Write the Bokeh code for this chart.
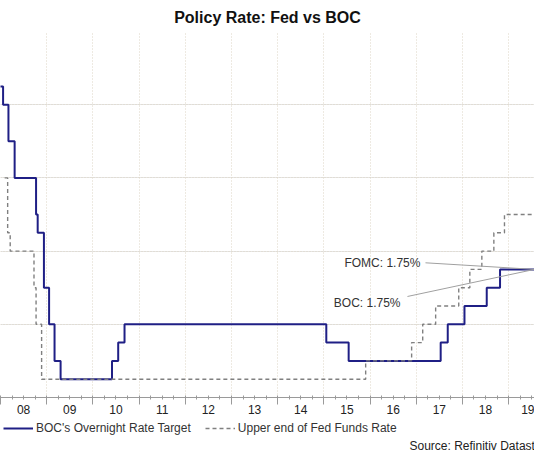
from bokeh.plotting import figure
from bokeh.layouts import column
from bokeh.models import (FixedTicker, LinearAxis, Legend, LegendItem,
                          Label, Range1d, Grid)
from bokeh.embed import file_html
from bokeh.resources import INLINE

# ---- data (decimal years, % rates) ----
boc_dates = [2007.90, 2008.056, 2008.172, 2008.306, 2008.770, 2008.805, 2008.940,
             2009.052, 2009.170, 2009.301, 2010.414, 2010.548, 2010.685, 2015.053,
             2015.537, 2017.529, 2017.682, 2018.044, 2018.526, 2018.814, 2019.70]
boc_rates = [4.25, 4.00, 3.50, 3.00, 2.50, 2.25, 1.50,
             1.00, 0.50, 0.25, 0.50, 0.75, 1.00, 0.75,
             0.50, 0.75, 1.00, 1.25, 1.50, 1.75, 1.75]

fed_dates = [2008.09, 2008.155, 2008.21, 2008.725, 2008.77, 2008.89, 2015.905,
             2016.90, 2017.14, 2017.42, 2017.92, 2018.16, 2018.42, 2018.68,
             2018.91, 2019.70]
fed_rates = [3.00, 2.25, 2.00, 1.50, 1.00, 0.25, 0.50,
             0.75, 1.00, 1.25, 1.50, 1.75, 2.00, 2.25,
             2.50, 2.50]

year_starts = list(range(2008, 2020))
year_labels = ["08", "09", "10", "11", "12", "13", "14", "15", "16", "17", "18", "19"]
rate_grid = [1, 2, 3, 4, 5]

boc_name = "BOC's Overnight Rate Target"
fed_name = "Upper end of Fed Funds Rate"
fomc_note = "FOMC: 1.75%"
boc_note = "BOC: 1.75%"
source_note = "Source: Refinitiv Datastream"

X0, X1 = 2008.0, 2019.56
FONT = "Liberation Sans"
W, H_MAIN, H_FOOT = 534, 416, 38

BOC_STYLE = dict(line_color="#1f1f85", line_width=2)
FED_STYLE = dict(line_color="#808080", line_width=1.4, line_dash="4 3")

xr = Range1d(X0, X1)

p = figure(width=W, height=H_MAIN, output_backend="svg", toolbar_location=None,
           x_range=xr, y_range=Range1d(0, 5),
           y_axis_location=None, min_border_left=0, min_border_right=0,
           min_border_top=0, min_border_bottom=0, outline_line_color=None,
           title="Policy Rate: Fed vs BOC")
p.background_fill_color = "white"
p.border_fill_color = "white"

p.title.align = "center"
p.title.text_font = FONT
p.title.text_font_size = "16px"
p.title.text_font_style = "bold"
p.title.text_color = "#111111"
p.title.standoff = 12

# grids
p.xgrid.visible = False
vgrid = Grid(dimension=0, ticker=FixedTicker(ticks=year_starts),
             grid_line_color="#dcd4c4", grid_line_dash="1 2", grid_line_width=1)
hgrid = Grid(dimension=1, ticker=FixedTicker(ticks=rate_grid),
             grid_line_color="#dcd4c4", grid_line_dash="1 2", grid_line_width=1)
p.add_layout(vgrid)
p.add_layout(hgrid)

# tick axis (year boundaries + quarter minors)
quarters = [y + q / 4 for y in range(2007, 2021) for q in range(4)]
ax = p.xaxis[0]
ax.ticker = FixedTicker(ticks=year_starts, minor_ticks=quarters)
ax.axis_line_color = "#9a9a9a"
ax.major_tick_line_color = "#9a9a9a"
ax.minor_tick_line_color = "#9a9a9a"
ax.major_tick_in = 0
ax.major_tick_out = 7
ax.minor_tick_in = 2
ax.minor_tick_out = 2
ax.major_label_overrides = {y: "" for y in year_starts}
ax.major_label_standoff = 0
ax.axis_label_standoff = 0

# label axis (labels centred in each year)
mids = [y + 0.5 for y in year_starts]
lab_ax = LinearAxis(ticker=FixedTicker(ticks=mids),
                    major_label_overrides={m: l for m, l in zip(mids, year_labels)})
lab_ax.axis_line_color = None
lab_ax.major_tick_line_color = None
lab_ax.minor_tick_line_color = None
lab_ax.major_label_standoff = -6
lab_ax.axis_label_standoff = 0
lab_ax.major_label_text_font = FONT
lab_ax.major_label_text_font_size = "12px"
lab_ax.major_label_text_color = "#222222"
p.add_layout(lab_ax, "below")

# series
p.step(boc_dates, boc_rates, mode="after", **BOC_STYLE)
p.step(fed_dates, fed_rates, mode="after", **FED_STYLE)

# annotations
fomc_y = fed_rates[fed_rates.index(1.75)]
boc_y = boc_rates[-1]
p.segment(x0=[2017.2], y0=[1.84], x1=[X1], y1=[fomc_y], line_color="#a0a0a0", line_width=1)
p.segment(x0=[2016.81], y0=[1.38], x1=[X1], y1=[boc_y], line_color="#a0a0a0", line_width=1)
p.add_layout(Label(x=2017.09, y=1.84, text=fomc_note, text_align="right",
                   text_baseline="middle", text_font=FONT, text_font_size="12px",
                   text_color="#333333"))
p.add_layout(Label(x=2016.66, y=1.29, text=boc_note, text_align="right",
                   text_baseline="middle", text_font=FONT, text_font_size="12px",
                   text_color="#333333"))

# ---- footer: legend + source (same series, kept far outside the visible range) ----
OFF = 1000
f = figure(width=W, height=H_FOOT, output_backend="svg", toolbar_location=None,
           x_range=xr, y_range=Range1d(-OFF - H_FOOT, -OFF),
           x_axis_location=None, y_axis_location=None,
           min_border_left=0, min_border_right=0, min_border_top=0,
           min_border_bottom=0, outline_line_color=None)
f.grid.visible = False
f.background_fill_color = "white"
f.border_fill_color = "white"
l_boc = f.step(boc_dates, boc_rates, mode="after", **BOC_STYLE)
l_fed = f.step(fed_dates, fed_rates, mode="after", **FED_STYLE)

legend = Legend(items=[LegendItem(label=boc_name, renderers=[l_boc]),
                       LegendItem(label=fed_name, renderers=[l_fed])],
                orientation="horizontal", location=(3, 19))
legend.label_text_font = FONT
legend.label_text_font_size = "12px"
legend.label_text_color = "#333333"
legend.glyph_width = 30
legend.glyph_height = 12
legend.label_standoff = 3
legend.spacing = 14
legend.padding = 2
legend.margin = 0
legend.border_line_color = None
legend.background_fill_alpha = 0
f.add_layout(legend)

px_per_year = W / (X1 - X0)
f.add_layout(Label(x=X0 + 409 / px_per_year, y=-OFF - H_FOOT + 9, text=source_note,
                   text_align="left", text_baseline="middle", text_font=FONT,
                   text_font_size="12px", text_color="#222222"))

layout = column(p, f, spacing=0)
open("out.html", "w").write(file_html(layout, INLINE))
